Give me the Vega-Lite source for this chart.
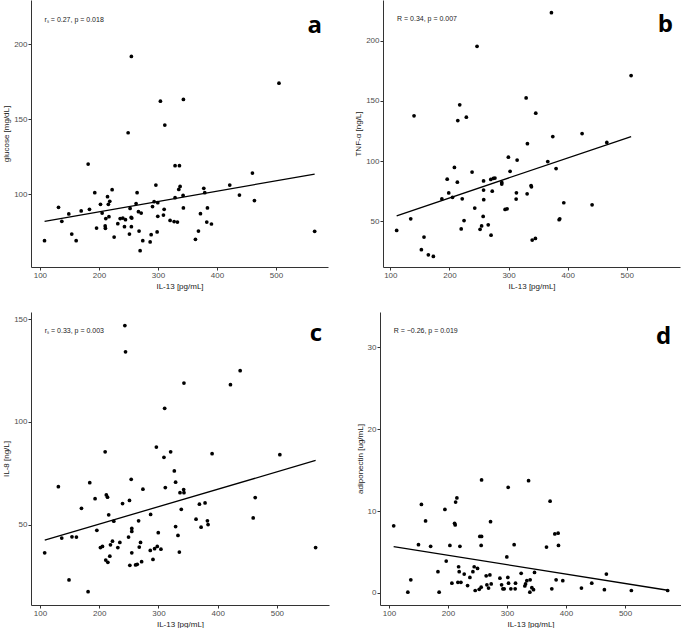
{
  "$schema": "https://vega.github.io/schema/vega-lite/v6.json",
  "padding": {"left": 2, "top": 0, "right": 0, "bottom": 0},
  "background": "white",
  "config": {
    "view": {"stroke": null},
    "font": "Liberation Sans",
    "axis": {"grid": false, "domainColor": "#333333", "tickColor": "#333333", "labelColor": "#4d4d4d", "labelFontSize": 8, "titleFontSize": 8, "titleFontWeight": "normal", "titleColor": "#1a1a1a", "tickSize": 3, "labelPadding": 1, "titlePadding": 3, "domainWidth": 1, "tickWidth": 1, "labelFont": "Liberation Sans", "titleFont": "Liberation Sans"}
  },
  "datasets": {
    "a": [
      {"il13":107.9,"val":68.9},{"il13":131.6,"val":91.1},{"il13":137.2,"val":81.8},{"il13":149,"val":86.7},{"il13":154,"val":73.3},{"il13":161.5,"val":68.9},{"il13":170,"val":88.7},{"il13":181.8,"val":120},{"il13":184,"val":89.8},{"il13":193,"val":100.9},{"il13":196,"val":77.3},{"il13":202.7,"val":93.1},{"il13":205.5,"val":87.3},{"il13":210.6,"val":78.7},{"il13":211,"val":77.1},{"il13":211.7,"val":83.6},{"il13":214.6,"val":98.2},{"il13":216,"val":93.1},{"il13":218.4,"val":95.1},{"il13":217,"val":84.9},{"il13":222.4,"val":102.9},{"il13":225.8,"val":71.3},{"il13":232,"val":80.2},{"il13":236,"val":83.6},{"il13":240.5,"val":84},{"il13":243.3,"val":78.2},{"il13":245,"val":82.9},{"il13":249.5,"val":140.9},{"il13":251.7,"val":73.3},{"il13":252.8,"val":90.4},{"il13":254.6,"val":84.4},{"il13":255,"val":191.8},{"il13":255,"val":78.2},{"il13":255.7,"val":84},{"il13":263,"val":93.6},{"il13":264.7,"val":100.9},{"il13":267,"val":88.2},{"il13":268,"val":75.3},{"il13":269.8,"val":62.2},{"il13":271.6,"val":87.3},{"il13":274.3,"val":68.9},{"il13":286.8,"val":68},{"il13":288.5,"val":72.9},{"il13":290.8,"val":91.6},{"il13":293.5,"val":94.9},{"il13":296.5,"val":106},{"il13":298.6,"val":74.7},{"il13":299.7,"val":85.1},{"il13":299.7,"val":94.2},{"il13":304.2,"val":162},{"il13":309.3,"val":86},{"il13":310.5,"val":89.8},{"il13":311.6,"val":146},{"il13":320.6,"val":82.4},{"il13":327.4,"val":81.6},{"il13":329,"val":118.9},{"il13":329,"val":97.6},{"il13":333,"val":81.3},{"il13":336.4,"val":118.9},{"il13":335.3,"val":103.1},{"il13":337.5,"val":105.1},{"il13":342.6,"val":99.1},{"il13":343.1,"val":163.1},{"il13":343.1,"val":90.7},{"il13":363.5,"val":69.8},{"il13":368.6,"val":75.3},{"il13":372,"val":86.9},{"il13":377.6,"val":103.8},{"il13":379.3,"val":100.9},{"il13":382.7,"val":81.3},{"il13":383.8,"val":90.7},{"il13":390.6,"val":80},{"il13":421.6,"val":106},{"il13":438,"val":99.3},{"il13":460,"val":114},{"il13":463.4,"val":95.6},{"il13":505,"val":174},{"il13":565.4,"val":75.1}
    ],
    "a_fit": [{"il13":108,"val":81.8},{"il13":565.4,"val":113.3}],
    "a_txt": [{"il13":108,"val":214.7,"label":"rₛ = 0.27, p = 0.018"}],
    "a_tag": [{"il13":565.5,"val":207.5,"label":"a"}],
    "b": [
      {"il13":110.7,"val":42.5},{"il13":134.5,"val":52.2},{"il13":140.1,"val":137.6},{"il13":152.5,"val":26.6},{"il13":157,"val":37},{"il13":164.3,"val":22.3},{"il13":172.8,"val":21},{"il13":187.2,"val":68.7},{"il13":196.2,"val":85.1},{"il13":198.8,"val":73.6},{"il13":205.2,"val":70},{"il13":208.4,"val":94.8},{"il13":213.4,"val":82.6},{"il13":214.1,"val":133.7},{"il13":217.4,"val":146.7},{"il13":219.9,"val":43.8},{"il13":221.6,"val":68.8},{"il13":224.7,"val":50.7},{"il13":228.6,"val":136.5},{"il13":238.3,"val":91},{"il13":242.8,"val":61.1},{"il13":246.7,"val":195.3},{"il13":251.8,"val":43.5},{"il13":254.4,"val":46.3},{"il13":257.7,"val":83.6},{"il13":257.7,"val":76},{"il13":258,"val":68},{"il13":257,"val":54.1},{"il13":265.6,"val":47.2},{"il13":270.4,"val":38.6},{"il13":269.9,"val":84.8},{"il13":272.4,"val":75.1},{"il13":274.4,"val":85.8},{"il13":277,"val":86},{"il13":288.5,"val":82.4},{"il13":288.5,"val":81},{"il13":294.1,"val":60},{"il13":297.5,"val":60.5},{"il13":299.7,"val":103.3},{"il13":302.6,"val":91.6},{"il13":312.8,"val":68.6},{"il13":313.3,"val":73.7},{"il13":314.5,"val":100.9},{"il13":329.7,"val":152.5},{"il13":331.9,"val":114.5},{"il13":331.4,"val":72.9},{"il13":338.1,"val":79.8},{"il13":338.7,"val":78.7},{"il13":340,"val":34.5},{"il13":345.4,"val":35.9},{"il13":346,"val":139.8},{"il13":366.3,"val":99.7},{"il13":372.5,"val":223.2},{"il13":374.8,"val":120.4},{"il13":380.4,"val":93.9},{"il13":385.5,"val":51.4},{"il13":386.6,"val":52.2},{"il13":393.4,"val":65.5},{"il13":424.4,"val":122.9},{"il13":441.3,"val":63.8},{"il13":466.2,"val":115.5},{"il13":507.3,"val":171}
    ],
    "b_fit": [{"il13":110.7,"val":54.7},{"il13":507.3,"val":120.4}],
    "b_txt": [{"il13":111.3,"val":216.6,"label":"R = 0.34, p = 0.007"}],
    "b_tag": [{"il13":565,"val":207,"label":"b"}],
    "c": [
      {"il13":107.9,"val":36.2},{"il13":131,"val":68.4},{"il13":136.7,"val":43.4},{"il13":149,"val":23},{"il13":154,"val":44},{"il13":161.5,"val":43.9},{"il13":170,"val":57.9},{"il13":181.2,"val":17.3},{"il13":184,"val":70.4},{"il13":193,"val":62.6},{"il13":196,"val":47.2},{"il13":202,"val":38.8},{"il13":205.5,"val":39.3},{"il13":210,"val":85.4},{"il13":211,"val":32.7},{"il13":212,"val":64.4},{"il13":214.6,"val":31.6},{"il13":214,"val":63.3},{"il13":216,"val":54.7},{"il13":217.9,"val":34.6},{"il13":219,"val":40.1},{"il13":222.4,"val":41.9},{"il13":224.6,"val":51.6},{"il13":231.4,"val":38.8},{"il13":234.8,"val":41.3},{"il13":239.4,"val":60.2},{"il13":243.3,"val":146.9},{"il13":244.4,"val":134.1},{"il13":249.5,"val":43.9},{"il13":251.1,"val":61.7},{"il13":251.7,"val":30.1},{"il13":254,"val":72},{"il13":255,"val":48.1},{"il13":255,"val":46.6},{"il13":255,"val":36.2},{"il13":261.4,"val":30.3},{"il13":264.2,"val":30.6},{"il13":266.5,"val":51.8},{"il13":267.6,"val":39},{"il13":269.8,"val":41.3},{"il13":271.6,"val":31.9},{"il13":273.8,"val":67.2},{"il13":286.8,"val":54.9},{"il13":286.2,"val":37.4},{"il13":290.8,"val":33},{"il13":293.5,"val":38.2},{"il13":296.5,"val":87.7},{"il13":298,"val":39.3},{"il13":299.7,"val":46},{"il13":304.2,"val":38},{"il13":309.3,"val":82.7},{"il13":310.5,"val":106.6},{"il13":311.6,"val":68},{"il13":320.6,"val":85.4},{"il13":326.8,"val":76.1},{"il13":329,"val":70.6},{"il13":329,"val":49},{"il13":333,"val":44.7},{"il13":335.3,"val":36.6},{"il13":336.4,"val":65.5},{"il13":338.6,"val":57.4},{"il13":342.6,"val":67},{"il13":343.1,"val":118.9},{"il13":343.1,"val":65.5},{"il13":363.5,"val":52.6},{"il13":369.2,"val":59.9},{"il13":372,"val":48.7},{"il13":378.7,"val":60.5},{"il13":382.7,"val":51.8},{"il13":383.8,"val":50},{"il13":390.6,"val":84.5},{"il13":421.6,"val":118.1},{"il13":438,"val":124.9},{"il13":460,"val":53.2},{"il13":463.4,"val":63.1},{"il13":505,"val":84},{"il13":565.4,"val":38.8}
    ],
    "c_fit": [{"il13":108,"val":42.4},{"il13":565.4,"val":81.2}],
    "c_txt": [{"il13":108,"val":143.1,"label":"rₛ = 0.33, p = 0.003"}],
    "c_tag": [{"il13":566,"val":139.5,"label":"c"}],
    "d": [
      {"il13":108,"val":8.2},{"il13":132,"val":0.1},{"il13":137,"val":1.6},{"il13":150,"val":5.9},{"il13":155,"val":10.8},{"il13":162,"val":8.8},{"il13":170.6,"val":5.7},{"il13":183,"val":2.6},{"il13":185,"val":0.1},{"il13":194.8,"val":10.2},{"il13":197,"val":3.9},{"il13":203.2,"val":5.8},{"il13":206.6,"val":1.2},{"il13":211.2,"val":8.5},{"il13":212.2,"val":8.3},{"il13":212.9,"val":11.1},{"il13":215.1,"val":11.6},{"il13":218,"val":3.2},{"il13":220.2,"val":5.7},{"il13":219,"val":2.6},{"il13":221.9,"val":1.3},{"il13":216.8,"val":1.3},{"il13":227.5,"val":2.3},{"il13":233.2,"val":0.9},{"il13":237.1,"val":1.9},{"il13":242.2,"val":2.6},{"il13":244.4,"val":3.2},{"il13":246.1,"val":0.3},{"il13":250.1,"val":3.0},{"il13":254,"val":6.9},{"il13":256.9,"val":6.9},{"il13":256.2,"val":5.8},{"il13":256.9,"val":13.8},{"il13":252.9,"val":0.45},{"il13":256.2,"val":0.7},{"il13":264.7,"val":2.1},{"il13":265.9,"val":1.0},{"il13":268.7,"val":0.6},{"il13":272.1,"val":8.7},{"il13":273.2,"val":1.1},{"il13":271,"val":2.2},{"il13":288,"val":1.8},{"il13":290.8,"val":1.0},{"il13":293,"val":0.5},{"il13":295.2,"val":0.5},{"il13":299.7,"val":4.4},{"il13":301.9,"val":12.9},{"il13":301.4,"val":1.9},{"il13":302.6,"val":1.2},{"il13":306.5,"val":0.5},{"il13":312.1,"val":5.9},{"il13":314.4,"val":1.2},{"il13":313.8,"val":0.5},{"il13":324,"val":2.4},{"il13":330.2,"val":0.85},{"il13":331.4,"val":1.1},{"il13":333.6,"val":1.5},{"il13":336.5,"val":13.7},{"il13":339.2,"val":1.6},{"il13":342.1,"val":0.65},{"il13":338.7,"val":0.1},{"il13":344.9,"val":0.4},{"il13":346.6,"val":2.5},{"il13":366.9,"val":5.6},{"il13":373,"val":11.2},{"il13":375.9,"val":0.5},{"il13":381,"val":7.2},{"il13":383.2,"val":1.6},{"il13":386.6,"val":7.3},{"il13":387.2,"val":5.8},{"il13":394.5,"val":1.5},{"il13":426.1,"val":0.6},{"il13":443.6,"val":1.2},{"il13":465,"val":0.4},{"il13":468.4,"val":2.3},{"il13":510.7,"val":0.3},{"il13":572.2,"val":0.3}
    ],
    "d_fit": [{"il13":107.9,"val":5.66},{"il13":572.2,"val":0.33}],
    "d_txt": [{"il13":108,"val":31.7,"label":"R = −0.26, p = 0.019"}],
    "d_tag": [{"il13":565.5,"val":30.4,"label":"d"}]
  },
  "spacing": 22,
  "vconcat": [
    {
      "spacing": 26,
      "hconcat": [
        {
          "width": 297, "height": 267,
          "layer": [
            {"data": {"name": "a"}, "mark": {"type": "circle", "size": 14, "color": "black", "opacity": 1},
             "encoding": {
               "x": {"field": "il13", "type": "quantitative", "scale": {"domain": [85, 588], "nice": false, "zero": false}, "axis": {"title": "IL-13 [pg/mL]", "values": [100, 200, 300, 400, 500]}},
               "y": {"field": "val", "type": "quantitative", "scale": {"domain": [51.3, 229.5], "nice": false, "zero": false}, "axis": {"title": "glucose [mg/dL]", "values": [100, 150, 200]}}}},
            {"data": {"name": "a_fit"}, "mark": {"type": "line", "color": "black", "strokeWidth": 1.3},
             "encoding": {"x": {"field": "il13", "type": "quantitative"}, "y": {"field": "val", "type": "quantitative"}}},
            {"data": {"name": "a_txt"}, "mark": {"type": "text", "align": "left", "baseline": "alphabetic", "fontSize": 7, "color": "#1a1a1a"},
             "encoding": {"x": {"field": "il13", "type": "quantitative"}, "y": {"field": "val", "type": "quantitative"}, "text": {"field": "label"}}},
            {"data": {"name": "a_tag"}, "mark": {"type": "text", "align": "center", "baseline": "alphabetic", "fontSize": 24, "font": "Open Sans", "fontWeight": "bold", "color": "black"},
             "encoding": {"x": {"field": "il13", "type": "quantitative"}, "y": {"field": "val", "type": "quantitative"}, "text": {"field": "label"}}}
          ]
        },
        {
          "width": 297, "height": 267,
          "layer": [
            {"data": {"name": "b"}, "mark": {"type": "circle", "size": 14, "color": "black", "opacity": 1},
             "encoding": {
               "x": {"field": "il13", "type": "quantitative", "scale": {"domain": [87.6, 590], "nice": false, "zero": false}, "axis": {"title": "IL-13 [pg/mL]", "values": [100, 200, 300, 400, 500]}},
               "y": {"field": "val", "type": "quantitative", "scale": {"domain": [12.2, 233.7], "nice": false, "zero": false}, "axis": {"title": "TNF-α [ng/L]", "values": [50, 100, 150, 200]}}}},
            {"data": {"name": "b_fit"}, "mark": {"type": "line", "color": "black", "strokeWidth": 1.3},
             "encoding": {"x": {"field": "il13", "type": "quantitative"}, "y": {"field": "val", "type": "quantitative"}}},
            {"data": {"name": "b_txt"}, "mark": {"type": "text", "align": "left", "baseline": "alphabetic", "fontSize": 7, "color": "#1a1a1a"},
             "encoding": {"x": {"field": "il13", "type": "quantitative"}, "y": {"field": "val", "type": "quantitative"}, "text": {"field": "label"}}},
            {"data": {"name": "b_tag"}, "mark": {"type": "text", "align": "center", "baseline": "alphabetic", "fontSize": 24, "font": "Open Sans", "fontWeight": "bold", "color": "black"},
             "encoding": {"x": {"field": "il13", "type": "quantitative"}, "y": {"field": "val", "type": "quantitative"}, "text": {"field": "label"}}}
          ]
        }
      ]
    },
    {
      "spacing": 27,
      "hconcat": [
        {
          "width": 298, "height": 293,
          "layer": [
            {"data": {"name": "c"}, "mark": {"type": "circle", "size": 14, "color": "black", "opacity": 1},
             "encoding": {
               "x": {"field": "il13", "type": "quantitative", "scale": {"domain": [84.8, 588], "nice": false, "zero": false}, "axis": {"title": "IL-13 [pg/mL]", "values": [100, 200, 300, 400, 500]}},
               "y": {"field": "val", "type": "quantitative", "scale": {"domain": [10.8, 153.5], "nice": false, "zero": false}, "axis": {"title": "IL-8 [ng/L]", "values": [50, 100, 150]}}}},
            {"data": {"name": "c_fit"}, "mark": {"type": "line", "color": "black", "strokeWidth": 1.3},
             "encoding": {"x": {"field": "il13", "type": "quantitative"}, "y": {"field": "val", "type": "quantitative"}}},
            {"data": {"name": "c_txt"}, "mark": {"type": "text", "align": "left", "baseline": "alphabetic", "fontSize": 7, "color": "#1a1a1a"},
             "encoding": {"x": {"field": "il13", "type": "quantitative"}, "y": {"field": "val", "type": "quantitative"}, "text": {"field": "label"}}},
            {"data": {"name": "c_tag"}, "mark": {"type": "text", "align": "center", "baseline": "alphabetic", "fontSize": 24, "font": "Open Sans", "fontWeight": "bold", "color": "black"},
             "encoding": {"x": {"field": "il13", "type": "quantitative"}, "y": {"field": "val", "type": "quantitative"}, "text": {"field": "label"}}}
          ]
        },
        {
          "width": 301, "height": 293,
          "layer": [
            {"data": {"name": "d"}, "mark": {"type": "circle", "size": 14, "color": "black", "opacity": 1},
             "encoding": {
               "x": {"field": "il13", "type": "quantitative", "scale": {"domain": [84.8, 594.8], "nice": false, "zero": false}, "axis": {"title": "IL-13 [pg/mL]", "values": [100, 200, 300, 400, 500]}},
               "y": {"field": "val", "type": "quantitative", "scale": {"domain": [-1.47, 34.3], "nice": false, "zero": false}, "axis": {"title": "adiponectin [ug/mL]", "values": [0, 10, 20, 30]}}}},
            {"data": {"name": "d_fit"}, "mark": {"type": "line", "color": "black", "strokeWidth": 1.3},
             "encoding": {"x": {"field": "il13", "type": "quantitative"}, "y": {"field": "val", "type": "quantitative"}}},
            {"data": {"name": "d_txt"}, "mark": {"type": "text", "align": "left", "baseline": "alphabetic", "fontSize": 7, "color": "#1a1a1a"},
             "encoding": {"x": {"field": "il13", "type": "quantitative"}, "y": {"field": "val", "type": "quantitative"}, "text": {"field": "label"}}},
            {"data": {"name": "d_tag"}, "mark": {"type": "text", "align": "center", "baseline": "alphabetic", "fontSize": 24, "font": "Open Sans", "fontWeight": "bold", "color": "black"},
             "encoding": {"x": {"field": "il13", "type": "quantitative"}, "y": {"field": "val", "type": "quantitative"}, "text": {"field": "label"}}}
          ]
        }
      ]
    }
  ]
}
